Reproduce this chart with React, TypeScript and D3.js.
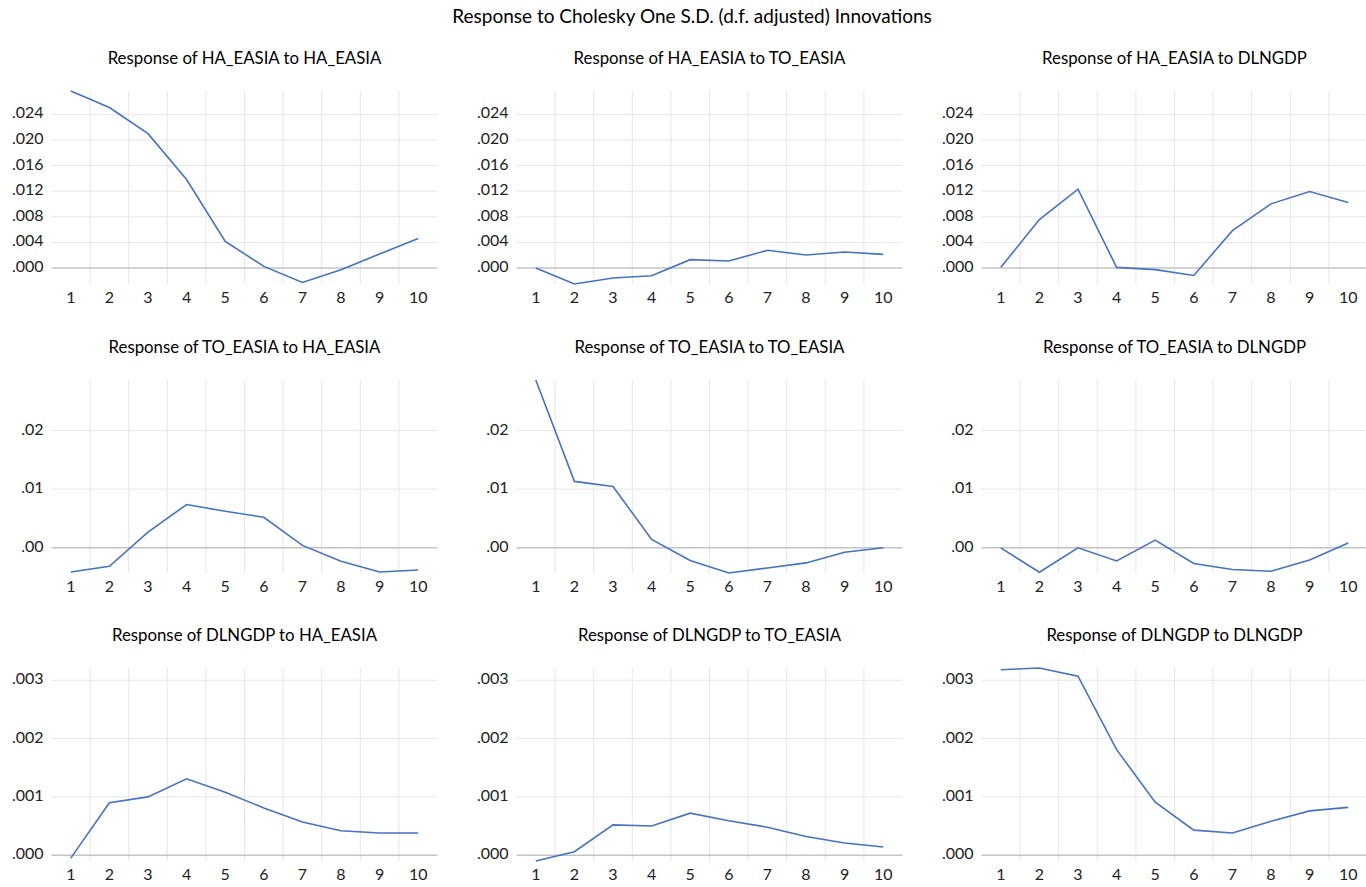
import React from "react";
import { scaleBand, scaleLinear, line, extent, format } from "d3";

// horizons
const periods = [1, 2, 3, 4, 5, 6, 7, 8, 9, 10];

// variable names (rows = response, columns = impulse)
const variables = ["HA_EASIA", "TO_EASIA", "DLNGDP"];

// responses of HA_EASIA
const haToHa = [0.02765, 0.02506, 0.02099, 0.01383, 0.00417, 0.00025, -0.00225, -0.00027, 0.00219, 0.00459];
const haToTo = [0.0, -0.0025, -0.00157, -0.0012, 0.0013, 0.0011, 0.00276, 0.00203, 0.0025, 0.00213];
const haToGdp = [0.0001, 0.00756, 0.01231, 0.0001, -0.00026, -0.00116, 0.00584, 0.01002, 0.01195, 0.01023];

// responses of TO_EASIA
const toToHa = [-0.00412, -0.00314, 0.00269, 0.00737, 0.00624, 0.00521, 0.00041, -0.00228, -0.00412, -0.00377];
const toToTo = [0.0286, 0.01132, 0.01046, 0.00144, -0.00216, -0.00429, -0.00343, -0.00257, -0.00074, 0.0];
const toToGdp = [0.0, -0.00417, 0.0, -0.00223, 0.00132, -0.00268, -0.0037, -0.004, -0.00206, 0.00081];

// responses of DLNGDP
const gdpToHa = [-0.00005, 0.0009, 0.001, 0.00131, 0.00108, 0.00081, 0.00057, 0.00042, 0.00038, 0.00038];
const gdpToTo = [-0.0001, 0.00006, 0.00052, 0.0005, 0.00072, 0.00059, 0.00048, 0.00032, 0.00021, 0.00014];
const gdpToGdp = [0.00318, 0.00321, 0.00307, 0.00181, 0.00091, 0.00043, 0.00038, 0.00058, 0.00076, 0.00082];

// y tick values per row
const ticksRow1 = [0, 0.004, 0.008, 0.012, 0.016, 0.02, 0.024];
const ticksRow2 = [0, 0.01, 0.02];
const ticksRow3 = [0, 0.001, 0.002, 0.003];

const rows = [
  { series: [haToHa, haToTo, haToGdp], ticks: ticksRow1, fmt: ".3f" },
  { series: [toToHa, toToTo, toToGdp], ticks: ticksRow2, fmt: ".2f" },
  { series: [gdpToHa, gdpToTo, gdpToGdp], ticks: ticksRow3, fmt: ".3f" },
];

const WIDTH = 1366;
const HEIGHT = 887;
const colLeft = [51.5, 516.5, 981.5];
const rowTop = [91, 380, 668];
const plotW = 386;
const plotH = 193;
const FONT = "Lato, 'Open Sans', sans-serif";
const LINE_COLOR = "#4472C4";

function Panel({ left, top, values, ticks, fmt, domain, title }) {
  const xScale = scaleBand().domain(periods.map(String)).range([left, left + plotW]);
  const yScale = scaleLinear().domain(domain).range([top + plotH, top]);
  const f = format(fmt);
  const label = (v) => f(v).replace(/^0/, "").replace(/^-0/, "-");
  const path = line()
    .x((d, i) => xScale(String(periods[i])) + xScale.bandwidth() / 2)
    .y((d) => yScale(d))(values);

  return (
    <g>
      <text
        x={left + plotW / 2}
        y={top - 31}
        textAnchor="middle"
        dominantBaseline="middle"
        fontSize={16.8}
        fill="#000"
      >
        {title}
      </text>

      {/* vertical gridlines between categories */}
      {periods.slice(1).map((p) => {
        const x = xScale(String(p));
        return <line key={p} x1={x} x2={x} y1={top} y2={top + plotH} stroke="#e6e6e6" />;
      })}

      {/* horizontal gridlines + tick labels */}
      {ticks.map((t) => (
        <g key={t}>
          <line
            x1={left}
            x2={left + plotW}
            y1={yScale(t)}
            y2={yScale(t)}
            stroke={t === 0 ? "#c4c4c4" : "#e6e6e6"}
            strokeWidth={t === 0 ? 1.5 : 1}
          />
          <text
            x={left - 8}
            y={yScale(t)}
            textAnchor="end"
            dominantBaseline="middle"
            fontSize={16}
            fill="#222"
          >
            {label(t)}
          </text>
        </g>
      ))}

      {/* x labels */}
      {periods.map((p) => (
        <text
          key={p}
          x={xScale(String(p)) + xScale.bandwidth() / 2}
          y={top + plotH + 15}
          textAnchor="middle"
          dominantBaseline="middle"
          fontSize={16}
          fill="#222"
        >
          {p}
        </text>
      ))}

      <path d={path} fill="none" stroke={LINE_COLOR} strokeWidth={1.6} />
    </g>
  );
}

export default function App() {
  return (
    <svg
      width={WIDTH}
      height={HEIGHT}
      style={{ position: "absolute", left: 0, top: 0, background: "#fff" }}
      fontFamily={FONT}
    >
      <text x={692} y={18} textAnchor="middle" dominantBaseline="middle" fontSize={19} fill="#000">
        Response to Cholesky One S.D. (d.f. adjusted) Innovations
      </text>
      {rows.map((row, r) => {
        const domain = extent(row.series.flat());
        return row.series.map((values, c) => (
          <Panel
            key={`${r}-${c}`}
            left={colLeft[c]}
            top={rowTop[r]}
            values={values}
            ticks={row.ticks}
            fmt={row.fmt}
            domain={domain}
            title={`Response of ${variables[r]} to ${variables[c]}`}
          />
        ));
      })}
    </svg>
  );
}
